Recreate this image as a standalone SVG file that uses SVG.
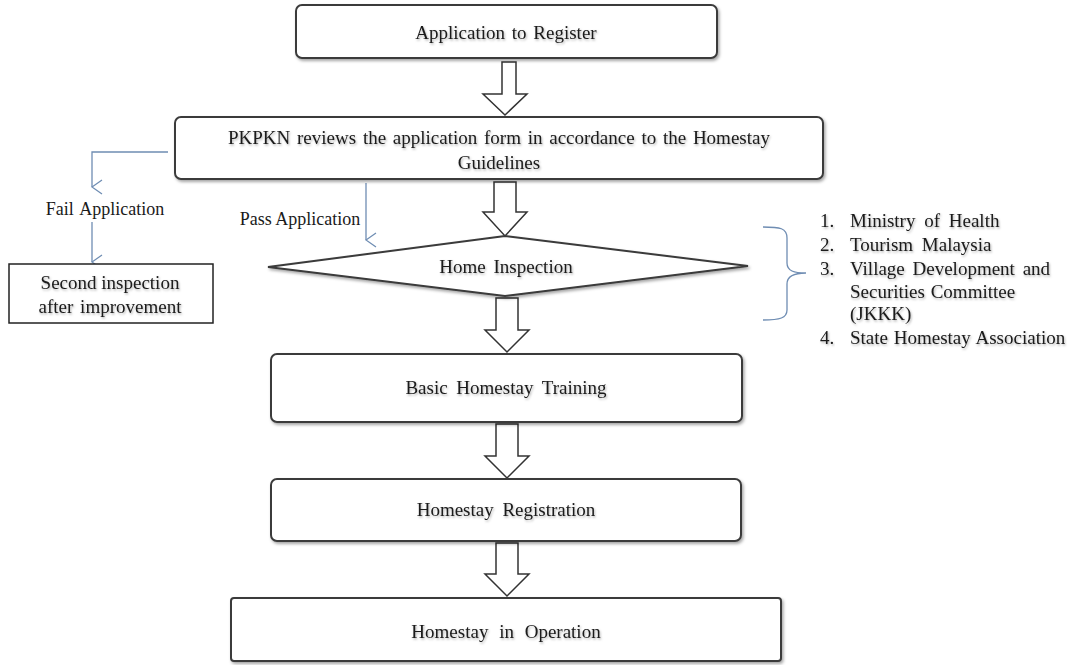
<svg xmlns="http://www.w3.org/2000/svg" width="1072" height="665" viewBox="0 0 1072 665">
<defs>
<filter id="sh" x="-5%" y="-20%" width="110%" height="150%">
<feDropShadow dx="1.5" dy="2" stdDeviation="1.5" flood-color="#000" flood-opacity="0.35"/>
</filter>
<filter id="tsh" x="-5%" y="-30%" width="110%" height="170%">
<feDropShadow dx="1" dy="1.5" stdDeviation="1.2" flood-color="#000" flood-opacity="0.3"/>
</filter>
<marker id="v" viewBox="0 0 16 12" refX="8" refY="11" markerWidth="16" markerHeight="12" markerUnits="userSpaceOnUse" orient="auto-start-reverse">
<path d="M1,1 L8,11 L15,1" fill="none" stroke="#6f8db3" stroke-width="1.3"/>
</marker>
</defs>
<style>
.box{fill:#fff;stroke:#3a3a3a;stroke-width:2;filter:url(#sh)}
.plain{fill:#fff;stroke:#222;stroke-width:1.5}
.blk{fill:#fff;stroke:#333;stroke-width:1.5;stroke-linejoin:miter}
.t{font-family:"Liberation Serif","Times New Roman",serif;font-size:19px;fill:#1a1a1a;filter:url(#tsh)}
.l{font-family:"Liberation Serif","Times New Roman",serif;font-size:18px;fill:#1a1a1a}
.m{text-anchor:middle}
.c{fill:none;stroke:#6f8db3;stroke-width:1.3}
</style>
<rect width="1072" height="665" fill="#fff"/>

<g id="connectors">
<path class="c" d="M168,152 H92 V187" marker-end="url(#v)"/>
<path class="c" d="M92,222 V262" marker-end="url(#v)"/>
<path class="c" d="M366,183 V240" marker-end="url(#v)"/>
<path class="c" d="M763,227 C780,227 787,228 787,238 L787,263 C787,271 794,273 806,273 C794,273 787,276 787,284 L787,310 C787,318 780,320 763,320"/>
<polygon class="blk" points="502,62 516,62 516,94 527,94 505,115 483,94 502,94"/>
<polygon class="blk" points="494,182 516,182 516,212 527,212 505,236 483,212 494,212"/>
<polygon class="blk" points="496,298 518,298 518,330 529,330 507,352 485,330 496,330"/>
<polygon class="blk" points="496,424 518,424 518,456 529,456 507,478 485,456 496,456"/>
<polygon class="blk" points="496,543 518,543 518,574 529,574 507,596 485,574 496,574"/>
</g>

<g id="n-apply">
<rect class="box" x="296" y="5" width="421" height="53" rx="6"/>
<text class="t m" x="506" y="39" word-spacing="2">Application  to Register</text>
</g>

<g id="n-review">
<rect class="box" x="175" y="117" width="648" height="62" rx="6"/>
<text class="t" x="228" y="144" word-spacing="2">PKPKN reviews  the application form in accordance to the Homestay</text>
<text class="t m" x="499" y="169">Guidelines</text>
</g>

<g id="n-fail-label">
<text class="l m" x="105" y="215" word-spacing="2">Fail  Application</text>
</g>

<g id="n-second">
<rect class="plain" x="9" y="264" width="204" height="59"/>
<text class="t m" x="110" y="289">Second inspection</text>
<text class="t m" x="110" y="313" word-spacing="2">after improvement</text>
</g>

<g id="n-pass-label">
<text class="l m" x="300" y="225">Pass Application</text>
</g>

<g id="n-inspect">
<polygon class="box" points="268,267 505,236 748,266 505,296"/>
<text class="t m" x="506" y="273" word-spacing="3">Home Inspection</text>
</g>

<g id="n-agencies">
<text class="t" x="820" y="227">1.</text><text class="t" x="850" y="227" word-spacing="4">Ministry  of Health</text>
<text class="t" x="820" y="251">2.</text><text class="t" x="850" y="251" word-spacing="4">Tourism Malaysia</text>
<text class="t" x="820" y="275">3.</text><text class="t" x="850" y="275" word-spacing="3">Village Development and</text>
<text class="t" x="850" y="298" word-spacing="1">Securities Committee</text>
<text class="t" x="850" y="320">(JKKK)</text>
<text class="t" x="820" y="344">4.</text><text class="t" x="850" y="344" word-spacing="1">State Homestay Association</text>
</g>

<g id="n-training">
<rect class="box" x="271" y="354" width="471" height="68" rx="6"/>
<text class="t m" x="506" y="394" word-spacing="4">Basic Homestay Training</text>
</g>

<g id="n-registration">
<rect class="box" x="271" y="479" width="470" height="62" rx="6"/>
<text class="t m" x="506" y="516" word-spacing="4">Homestay Registration</text>
</g>

<g id="n-operation">
<rect class="box" x="231" y="598" width="550" height="63" rx="3"/>
<text class="t m" x="506" y="638" word-spacing="6">Homestay in Operation</text>
</g>
</svg>
